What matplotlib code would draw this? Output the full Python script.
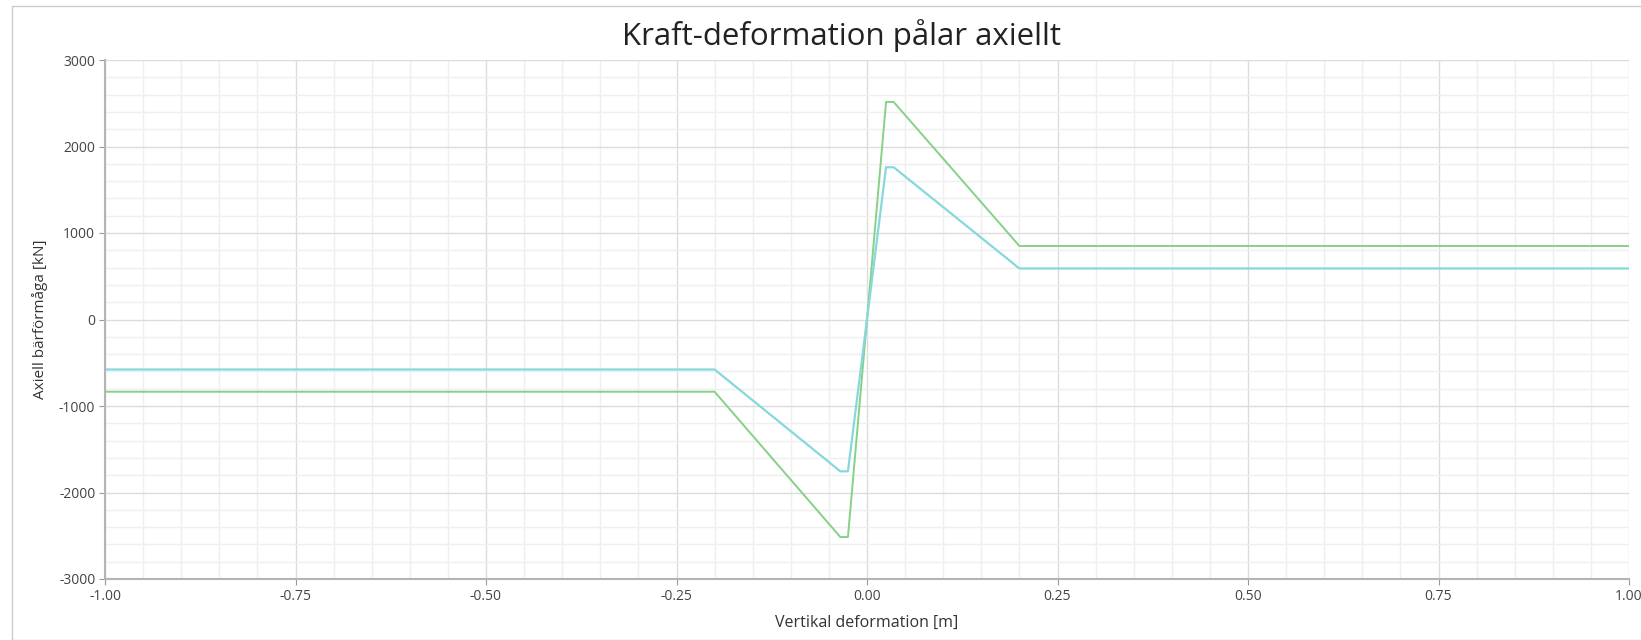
import numpy as np
import matplotlib.pyplot as plt
from matplotlib.ticker import MultipleLocator, FormatStrFormatter
from matplotlib.patches import Rectangle

plt.rcParams['font.family'] = ['Open Sans', 'DejaVu Sans']
plt.rcParams['axes.unicode_minus'] = False

# data
defo_green = [-1.0, -0.2, -0.035, -0.025, 0.025, 0.035, 0.2, 1.0]
kraft_green = [-835, -835, -2515, -2515, 2515, 2515, 850, 850]
defo_cyan = [-1.0, -0.2, -0.035, -0.025, 0.025, 0.035, 0.2, 1.0]
kraft_cyan = [-578, -578, -1755, -1755, 1760, 1760, 590, 590]

fig = plt.figure(figsize=(16.41, 6.4), dpi=100)
ax = fig.add_axes([105/1641, 61/640, 1524/1641, 519/640])

ax.plot(defo_green, kraft_green, color='#86d186', lw=1.4)
ax.plot(defo_cyan, kraft_cyan, color='#86d8dc', lw=1.6)

ax.set_xlim(-1, 1)
ax.set_ylim(-3000, 3000)
ax.xaxis.set_major_locator(MultipleLocator(0.25))
ax.xaxis.set_minor_locator(MultipleLocator(0.05))
ax.yaxis.set_major_locator(MultipleLocator(1000))
ax.yaxis.set_minor_locator(MultipleLocator(200))
ax.xaxis.set_major_formatter(FormatStrFormatter('%.2f'))
ax.grid(which='major', color='#dcdcdc', lw=1.0)
ax.grid(which='minor', color='#efefef', lw=1.0)
ax.set_axisbelow(True)

for s in ['top', 'right']:
    ax.spines[s].set_visible(False)
for s in ['left', 'bottom']:
    ax.spines[s].set_color('#b4b4b4')
    ax.spines[s].set_linewidth(1.5)
ax.tick_params(which='major', length=4, color='#999999', labelsize=10, labelcolor='#444444', pad=3)
ax.tick_params(which='minor', length=0)

ax.set_xlabel('Vertikal deformation [m]', fontsize=11.5, color='#333333', labelpad=8)
ax.set_ylabel('Axiell bärförmåga [kN]', fontsize=11, color='#333333', labelpad=8)
fig.text(841/1641, 0.944, 'Kraft-deformation pålar axiellt', ha='center', va='center',
         fontsize=22.5, color='#222222')

fig.patches.append(Rectangle((12/1641, 0.5/640), 1641, 633.5/640, transform=fig.transFigure,
                             fill=False, edgecolor='#cccccc', lw=1))

fig.savefig('out.png', dpi=100)
